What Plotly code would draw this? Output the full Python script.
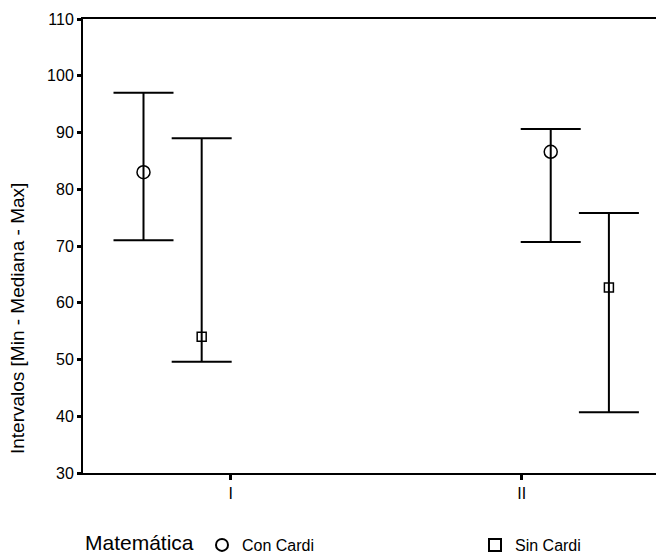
import plotly.graph_objects as go

categories = ["I", "II"]
series_names = ["Con Cardi", "Sin Cardi"]
con_median = [83, 86.6]
con_min = [71, 70.7]
con_max = [97, 90.6]
sin_median = [54, 62.7]
sin_min = [49.6, 40.7]
sin_max = [89, 75.8]
y_ticks = [30, 40, 50, 60, 70, 80, 90, 100, 110]
legend_title = "Matemática"
y_title = "Intervalos [Min - Mediana - Max]"

# layout offsets (style, not data)
group_shift = [-0.2, 0.2]
series_offset = {"Con Cardi": -0.1, "Sin Cardi": 0.1}

FONT = "Liberation Sans, Arial, sans-serif"

W, H = 656, 546  # page body has an 8px margin

fig = go.Figure()

def add_series(name, med, lo, hi, symbol, size):
    xs = [i + group_shift[i] + series_offset[name] for i in range(len(categories))]
    fig.add_trace(go.Scatter(
        x=xs, y=med, mode="markers", name=name,
        marker=dict(symbol=symbol, size=size, color="black", line=dict(width=1.5, color="black")),
        error_y=dict(type="data", symmetric=False,
                     array=[h - m for h, m in zip(hi, med)],
                     arrayminus=[m - l for m, l in zip(med, lo)],
                     color="black", thickness=2, width=30),
    ))

add_series(series_names[0], con_median, con_min, con_max, "circle-open", 13)
add_series(series_names[1], sin_median, sin_min, sin_max, "square-open", 9)

fig.update_layout(
    width=W, height=H,
    margin=dict(l=75, r=1, t=11, b=81),
    plot_bgcolor="white", paper_bgcolor="white",
    font=dict(family=FONT, color="black", size=13),
    showlegend=True,
    legend=dict(
        orientation="h", xref="container", yref="container",
        x=194 / W, xanchor="left", y=9 / H, yanchor="middle",
        font=dict(family=FONT, size=16),
        entrywidth=228, entrywidthmode="pixels",
        itemsizing="constant", bgcolor="rgba(0,0,0,0)",
    ),
    xaxis=dict(
        range=[-0.508, 1.486], tickvals=list(range(len(categories))), ticktext=categories,
        showgrid=False, zeroline=False, showline=True, linecolor="black", linewidth=2,
        mirror=True, ticks="outside", ticklen=5, tickwidth=3, tickcolor="black",
        tickfont=dict(family=FONT, size=16), automargin=False,
    ),
    yaxis=dict(
        range=[30, 110], tickvals=y_ticks,
        showgrid=False, zeroline=False, showline=True, linecolor="black", linewidth=2,
        ticks="outside", ticklen=4, tickwidth=3, tickcolor="black",
        tickfont=dict(family=FONT, size=16), automargin=False,
    ),
    annotations=[
        dict(text=y_title, xref="paper", yref="paper", x=-0.114, y=0.341,
             xanchor="center", yanchor="middle", textangle=-90, showarrow=False,
             font=dict(family=FONT, size=19)),
        dict(text=legend_title, xref="paper", yref="paper", x=0, y=-0.154,
             xanchor="left", yanchor="middle", showarrow=False,
             font=dict(family=FONT, size=21)),
    ],
)
fig.add_shape(type="line", xref="paper", yref="paper", x0=1, x1=1, y0=0, y1=1,
              line=dict(color="#cccccc", width=1))

fig.write_html("out.html")
